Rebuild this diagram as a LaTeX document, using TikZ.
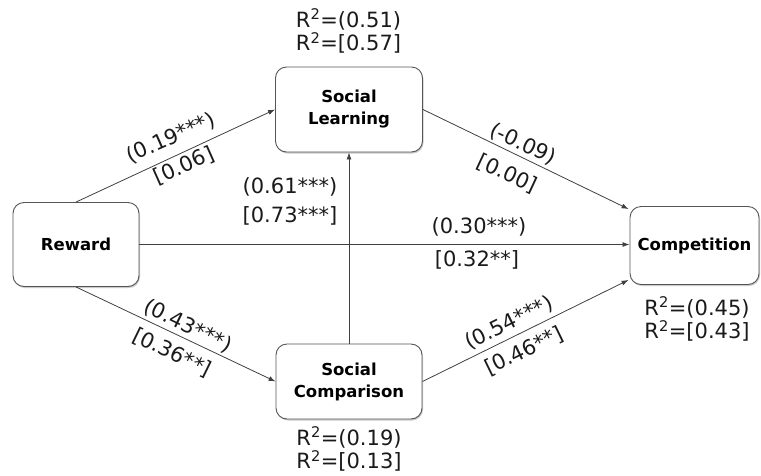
\documentclass[tikz,border=0pt]{standalone}
\usepackage{fontspec}
\setmainfont{DejaVu Sans}
\usetikzlibrary{shadows,arrows.meta}
\definecolor{boxline}{HTML}{555555}
\definecolor{arrline}{HTML}{404040}
\definecolor{txt}{HTML}{1A1A1A}
\begin{document}
\begin{tikzpicture}[x=1pt,y=-1pt,
  box/.style={draw=boxline, line width=0.9pt, rounded corners=11pt, fill=white,
    align=center, inner sep=0pt, text=black,
    font=\bfseries\fontsize{16.5}{22}\selectfont,
    drop shadow={shadow xshift=1pt, shadow yshift=-1.5pt, opacity=0.35, fill=black!60}},
  conn/.style={draw=arrline, line width=0.8pt, -{Latex[length=7pt,width=5pt]}},
  lbl/.style={inner sep=0pt, text=txt, font=\fontsize{21}{23}\selectfont},
  rsq/.style={inner sep=0pt, text=txt, align=center, font=\fontsize{21}{23.5}\selectfont}]
\useasboundingbox (0,0) rectangle (761,475);
% boxes
\node[box, minimum width=147pt, minimum height=85pt] (SL) at (349,109.5) {Social\\Learning};
\node[box, minimum width=126pt, minimum height=84pt] (RW) at (76,244.5) {Reward};
\node[box, minimum width=146pt, minimum height=75pt] (SC) at (349,381.5) {Social\\Comparison};
\node[box, minimum width=129pt, minimum height=78pt] (CP) at (694.5,245.5) {Competition};
% connectors
\draw[conn] (RW.north) -- (SL.west);
\draw[conn] (RW.south) -- (SC.west);
\draw[conn] (RW.east) -- (RW.east -| CP.west);
\draw[conn] (SC.north) -- (SL.south);
\draw[conn] (SL.east) -- ([yshift=-3pt,xshift=-1pt]CP.north west);
\draw[conn] (SC.east) -- ([yshift=5pt,xshift=-1pt]CP.south west);
% R squared
\node[rsq] (r1) at (348.5,31) {R\textsuperscript{2}=(0.51)\\R\textsuperscript{2}=[0.57]};
\node[rsq] (r2) at (697,319) {R\textsuperscript{2}=(0.45)\\R\textsuperscript{2}=[0.43]};
\node[rsq] (r3) at (349,449) {R\textsuperscript{2}=(0.19)\\R\textsuperscript{2}=[0.13]};
% path labels
\node[lbl, rotate=24] (l1) at (171,138) {(0.19***)};
\node[lbl, rotate=24] (l2) at (184,166) {[0.06]};
\node[lbl] (l3) at (290,187) {(0.61***)};
\node[lbl] (l4) at (290,216) {[0.73***]};
\node[lbl, rotate=-25] (l5) at (523,144) {(-0.09)};
\node[lbl, rotate=-25] (l6) at (507,174) {[0.00]};
\node[lbl] (l7) at (479,227) {(0.30***)};
\node[lbl] (l8) at (477,260) {[0.32**]};
\node[lbl, rotate=-26] (l9) at (188,326) {(0.43***)};
\node[lbl, rotate=-26] (l10) at (172,353) {[0.36**]};
\node[lbl, rotate=26] (l11) at (509,323) {(0.54***)};
\node[lbl, rotate=26] (l12) at (524,351) {[0.46**]};
\end{tikzpicture}
\end{document}
